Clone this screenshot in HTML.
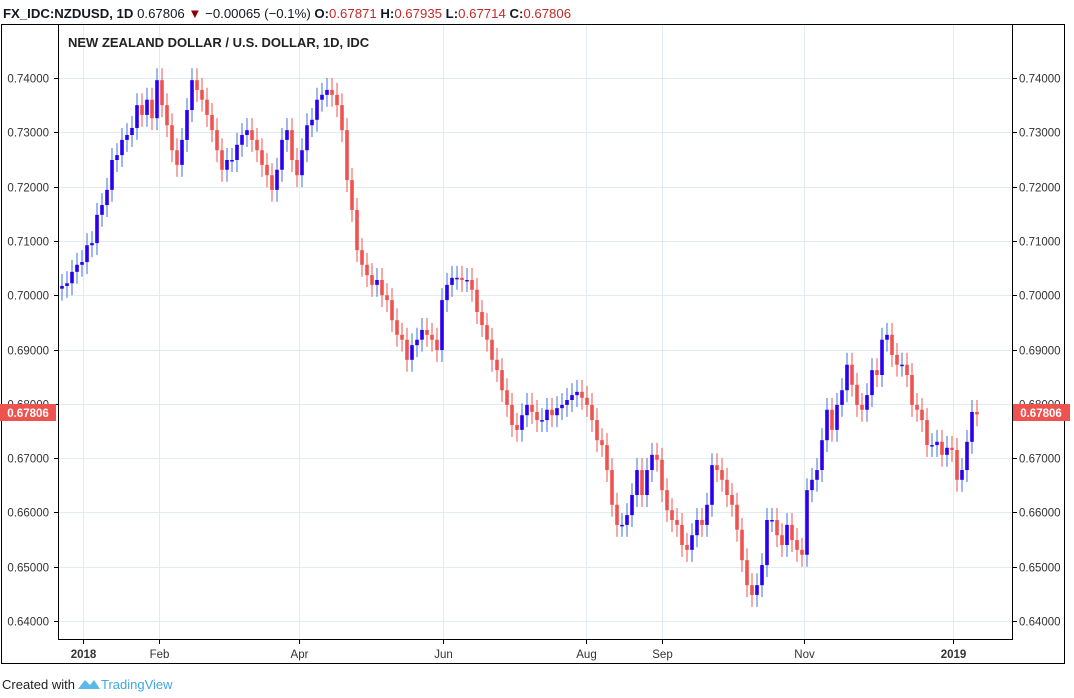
<!DOCTYPE html>
<html><head><meta charset="utf-8"><style>
body{margin:0;background:#fff;width:1074px;height:698px;overflow:hidden;font-family:"Liberation Sans",sans-serif;}
svg{display:block}
</style></head><body>
<svg id="chart" width="1074" height="698">
<text x="3" y="18" font-size="13.2" fill="#131722"><tspan font-weight="bold">FX_IDC:NZDUSD, 1D</tspan> 0.67806 <tspan fill="#8b0000">▼</tspan> −0.00065 (−0.1%) <tspan font-weight="bold">O:</tspan><tspan fill="#c62828">0.67871</tspan> <tspan font-weight="bold">H:</tspan><tspan fill="#c62828">0.67935</tspan> <tspan font-weight="bold">L:</tspan><tspan fill="#c62828">0.67714</tspan> <tspan font-weight="bold">C:</tspan><tspan fill="#c62828">0.67806</tspan></text>
<rect x="1.5" y="24.5" width="1063" height="639" fill="#fff" stroke="#000" stroke-width="1"/>
<g id="grid"></g>
<g id="candles"></g>
<line x1="58.5" y1="24" x2="58.5" y2="639.5" stroke="#000"/>
<line x1="1012.5" y1="24" x2="1012.5" y2="639.5" stroke="#000"/>
<line x1="58" y1="639.5" x2="1013" y2="639.5" stroke="#000"/>
<g id="axes"></g>
<text x="68" y="47" font-size="13" font-weight="bold" fill="#222">NEW ZEALAND DOLLAR / U.S. DOLLAR, 1D, IDC</text>
<rect x="0" y="404" width="56" height="17" fill="#ef5350"/>
<text x="28" y="417" font-size="11.5" font-weight="bold" fill="#fff" text-anchor="middle">0.67806</text>
<rect x="1013" y="404" width="57" height="17" fill="#ef5350"/>
<text x="1041" y="417" font-size="11.5" font-weight="bold" fill="#fff" text-anchor="middle">0.67806</text>
<text x="2" y="689" font-size="13" fill="#222">Created with</text>
<g><path d="M78 689 L85 680 L90 685 L94 680 L100 689 Z" fill="#5bb8e8"/><text x="101" y="689" font-size="13" fill="#3fa7de">TradingView</text></g>
</svg>
<script>
const closes=[0.7017,0.7022,0.7043,0.7056,0.7061,0.7092,0.7096,0.7148,0.7166,0.7194,0.7249,0.7258,0.7286,0.7295,0.7308,0.7350,0.7332,0.7360,0.7326,0.7396,0.7350,0.7313,0.7267,0.7240,0.7286,0.7341,0.7396,0.7378,0.7360,0.7332,0.7304,0.7267,0.7231,0.7249,0.7249,0.7277,0.7295,0.7304,0.7286,0.7267,0.7240,0.7221,0.7194,0.7231,0.7286,0.7304,0.7249,0.7221,0.7267,0.7313,0.7323,0.7360,0.7369,0.7378,0.7369,0.7350,0.7304,0.7212,0.7157,0.7083,0.7056,0.7037,0.7019,0.7028,0.7000,0.6991,0.6954,0.6927,0.6918,0.6881,0.6908,0.6918,0.6936,0.6927,0.6918,0.6899,0.6991,0.7019,0.7032,0.7032,0.7028,0.7028,0.7010,0.6969,0.6945,0.6918,0.6881,0.6862,0.6825,0.6798,0.6761,0.6752,0.6779,0.6798,0.6785,0.6770,0.6770,0.6789,0.6779,0.6792,0.6798,0.6807,0.6816,0.6822,0.6811,0.6798,0.6770,0.6733,0.6724,0.6678,0.6614,0.6577,0.6577,0.6595,0.6632,0.6678,0.6632,0.6678,0.6706,0.6697,0.6641,0.6604,0.6586,0.6577,0.6540,0.6531,0.6558,0.6586,0.6577,0.6614,0.6687,0.6678,0.6660,0.6632,0.6614,0.6568,0.6512,0.6466,0.6448,0.6466,0.6503,0.6586,0.6586,0.6558,0.6540,0.6577,0.6549,0.6531,0.6522,0.6641,0.6660,0.6678,0.6733,0.6789,0.6752,0.6798,0.6825,0.6872,0.6835,0.6798,0.6789,0.6816,0.6862,0.6853,0.6918,0.6927,0.6890,0.6872,0.6872,0.6853,0.6798,0.6789,0.6770,0.6724,0.6724,0.6730,0.6706,0.6719,0.6715,0.6660,0.6678,0.6730,0.6785,0.67806];
const firstOpen=0.7012;
const priceTicks=[0.74,0.73,0.72,0.71,0.70,0.69,0.68,0.67,0.66,0.65,0.64];
const monthLabels=["2018","Feb","Apr","Jun","Aug","Sep","Nov","2019"];
const monthIndex=[4.6,27.5,69.5,113,156,179,221.5,266.5];
const NS="http://www.w3.org/2000/svg";
const X0=62,X1=977;
function yScale(p){return 78+(0.74-p)*5430;}
function xScale(i){return X0+i*(X1-X0)/(closes.length-1);}
function xMonth(m){return 83+(m-4.6)*(953-83)/(266.5-4.6);}
function mk(tag,attrs,parent){const e=document.createElementNS(NS,tag);for(const k in attrs)e.setAttribute(k,attrs[k]);parent.appendChild(e);return e;}
const grid=document.getElementById('grid'),axes=document.getElementById('axes'),cg=document.getElementById('candles');
priceTicks.forEach(p=>{
  const y=Math.round(yScale(p))+0.5;
  const l=mk('line',{x1:59,x2:1012,y1:y,y2:y,stroke:'#e1ecf2'},grid);
  
  
  mk('line',{x1:54,x2:58,y1:y,y2:y,stroke:'#000'},axes);
  mk('line',{x1:1013,x2:1017,y1:y,y2:y,stroke:'#000'},axes);
  const t1=mk('text',{x:49,y:y+4,'font-size':11.5,fill:'#333','text-anchor':'end'},axes);
  t1.textContent=p.toFixed(5);
  
  
  const t2=mk('text',{x:1019,y:y+4,'font-size':11.5,fill:'#333'},axes);
  t2.textContent=p.toFixed(5);
  
  
});
monthLabels.forEach((m,i)=>{
  const x=Math.round(xMonth(monthIndex[i]))+0.5;
  const l=mk('line',{x1:x,x2:x,y1:25,y2:639,stroke:'#e1ecf2'},grid);
  
  
  mk('line',{x1:x,x2:x,y1:640,y2:644,stroke:'#000'},axes);
  const t=mk('text',{x:x,y:658,'font-size':11.5,fill:'#333','text-anchor':'middle','font-weight':(m.length===4?'bold':'normal')},axes);
  t.textContent=m;
  
  
});
closes.forEach((c,i)=>{
  const o=i===0?firstOpen:closes[i-1];
  const up=c>=o;
  const hi=Math.max(o,c)+0.0022, lo=Math.min(o,c)-0.0022;
  const x=xScale(i);
  const g=mk('g',{},cg);
  
  
  mk('line',{x1:x,x2:x,y1:yScale(hi),y2:yScale(lo),stroke:up?'#3c6fe0':'#ef5350','stroke-width':1},g);
  const yt=yScale(Math.max(o,c)),yb=yScale(Math.min(o,c));
  mk('rect',{x:x-1.8,y:yt,width:3.6,height:Math.max(1.5,yb-yt),fill:up?'#2a00f0':'#ef5350'},g);
});
</script>
</body></html>
